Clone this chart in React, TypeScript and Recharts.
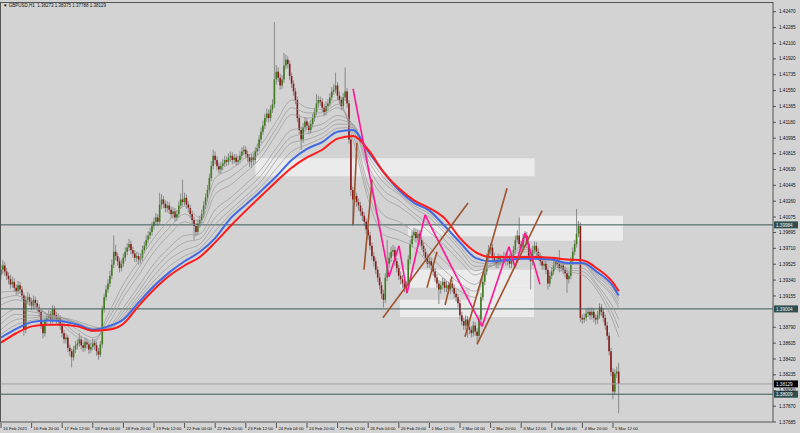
import React from 'react';
import {
  ComposedChart,
  Bar,
  Line,
  XAxis,
  YAxis,
  ReferenceLine,
  ReferenceArea,
} from 'recharts';

// GBPUSD H1, one value per hourly bar (bar 0 = 16 Feb 04:00)
const firstOpen = 1.394;

const closes = [
  1.3946, 1.3951, 1.3944, 1.3939, 1.3935, 1.3929, 1.3932, 1.3925, 1.3921, 1.3928,
  1.3923, 1.3916, 1.3876, 1.3911, 1.3914, 1.3909, 1.3904, 1.3911, 1.3907, 1.3902,
  1.3897, 1.3882, 1.3872, 1.3886, 1.389, 1.3894, 1.3888, 1.39, 1.3893, 1.3888,
  1.389, 1.3881, 1.3872, 1.3865, 1.3867, 1.3855, 1.3851, 1.3844, 1.3853, 1.3858,
  1.386, 1.3865, 1.3858, 1.3855, 1.3862, 1.3859, 1.3853, 1.3856, 1.3861, 1.3858,
  1.3851, 1.3847, 1.3859, 1.39, 1.3914,
  1.3923, 1.393, 1.3939, 1.3952, 1.3967, 1.3962, 1.3956, 1.3948, 1.3953, 1.396,
  1.3967, 1.3972, 1.3976, 1.3969, 1.3965, 1.396, 1.3962, 1.3958, 1.396, 1.3969,
  1.3974, 1.3981, 1.3986, 1.399, 1.3997, 1.4002, 1.4007, 1.4002, 1.4022, 1.4028,
  1.4023, 1.4018, 1.4021, 1.4016, 1.4011, 1.4014, 1.4007, 1.4011, 1.4021, 1.4028,
  1.4025, 1.403, 1.4022, 1.4018, 1.4011, 1.4004, 1.3997, 1.399, 1.4, 1.4004,
  1.4011, 1.4021, 1.403, 1.4039, 1.4053, 1.4067, 1.4079, 1.4074, 1.4067, 1.4063,
  1.4067, 1.407, 1.4074, 1.4072, 1.4077, 1.4079, 1.4074, 1.4077, 1.4072, 1.4074,
  1.4079, 1.4084, 1.4086, 1.4081, 1.4077, 1.4072, 1.4077, 1.4074, 1.4084, 1.4088,
  1.4098, 1.4107, 1.4114, 1.4123, 1.4128, 1.4123, 1.4133, 1.4139, 1.4168, 1.4177,
  1.417, 1.4161, 1.4168, 1.4184, 1.4191, 1.4186, 1.4172, 1.4163, 1.4154, 1.4144,
  1.4123, 1.4109, 1.4098, 1.4112, 1.4119, 1.4114, 1.4109, 1.4116, 1.4123, 1.413,
  1.414, 1.4144, 1.4142, 1.4135, 1.413, 1.4137, 1.414, 1.4147, 1.4154, 1.4156,
  1.4161, 1.4149, 1.4144, 1.4137, 1.4147, 1.4154, 1.414, 1.4098, 1.4039, 1.4028,
  1.4032, 1.4025, 1.4021, 1.4014, 1.4009, 1.4002, 1.3993, 1.3986, 1.3974, 1.3962,
  1.3956, 1.3946, 1.3937, 1.3928, 1.3918, 1.3911, 1.3937, 1.3953, 1.396, 1.3967,
  1.3969, 1.3956, 1.3948, 1.3939, 1.3935, 1.393, 1.3925, 1.3928, 1.3958, 1.3976,
  1.3986, 1.399, 1.3983, 1.3988, 1.3981, 1.3974, 1.3967, 1.396, 1.3953, 1.3956,
  1.3951, 1.3944, 1.3937, 1.393, 1.3923, 1.3928, 1.3932, 1.3925, 1.3928, 1.3923,
  1.393, 1.3925, 1.3918, 1.3914, 1.3907, 1.3893, 1.3886, 1.3881, 1.3888, 1.3879,
  1.3876, 1.3872, 1.3881, 1.3874, 1.3869, 1.3888, 1.3914, 1.3932, 1.3944, 1.396,
  1.3969, 1.3972, 1.3962, 1.3956, 1.3953, 1.396, 1.3956, 1.3958, 1.3962, 1.3956,
  1.396, 1.3953, 1.3958, 1.3969, 1.3981, 1.3986, 1.3976, 1.3972, 1.3983, 1.3986,
  1.3976, 1.3962, 1.3956, 1.3969, 1.3974, 1.3967, 1.3962, 1.3956, 1.3951, 1.3953,
  1.3946, 1.393, 1.3939, 1.3944, 1.3951, 1.3956, 1.3953, 1.3948, 1.3951, 1.3946,
  1.3942, 1.3935, 1.3939, 1.3956, 1.3967, 1.3976, 1.3988, 1.3997, 1.389, 1.3888,
  1.389, 1.3895, 1.3897, 1.3893, 1.3897, 1.389, 1.3888, 1.3893, 1.3902, 1.3897,
  1.389, 1.3881, 1.3869, 1.3851, 1.3827, 1.3804, 1.3825, 1.38273, 1.38129,
];

const highs = [
  1.3952, 1.3957, 1.3955, 1.3948, 1.3943, 1.394, 1.3938, 1.3936, 1.3929, 1.3933,
  1.3932, 1.3927, 1.3919, 1.3915, 1.392, 1.3918, 1.3913, 1.3916, 1.3915, 1.3911,
  1.3906, 1.39, 1.3886, 1.389, 1.3895, 1.3899, 1.3898, 1.3905, 1.3904, 1.3897,
  1.3895, 1.3893, 1.3884, 1.3876, 1.3872, 1.387, 1.3859, 1.3854, 1.3857, 1.3863,
  1.3865, 1.3872, 1.3869, 1.3862, 1.3867, 1.3866, 1.3863, 1.3861, 1.3866, 1.3865,
  1.3862, 1.3855, 1.3863, 1.3904, 1.3918,
  1.3928, 1.3935, 1.3945, 1.3958, 1.3986, 1.3975, 1.3966, 1.396, 1.3958, 1.3965,
  1.3972, 1.3977, 1.3982, 1.398, 1.3973, 1.3969, 1.3967, 1.3966, 1.3965, 1.3974,
  1.3979, 1.3986, 1.3991, 1.3995, 1.4002, 1.4007, 1.4012, 1.4011, 1.4036, 1.4034,
  1.4032, 1.4027, 1.4026, 1.4025, 1.402, 1.4019, 1.4018, 1.4016, 1.4026, 1.4035,
  1.4051, 1.4036, 1.4034, 1.4026, 1.4022, 1.4015, 1.4008, 1.4001, 1.4005, 1.4009,
  1.4016, 1.4026, 1.4035, 1.4045, 1.4058, 1.4073, 1.4086, 1.4084, 1.4078, 1.4071,
  1.4072, 1.4075, 1.4079, 1.4078, 1.4082, 1.4084, 1.4083, 1.4081, 1.4081, 1.4079,
  1.4084, 1.4089, 1.4091, 1.409, 1.4085, 1.4081, 1.4081, 1.4082, 1.4089, 1.4093,
  1.4103, 1.4112, 1.412, 1.4128, 1.4134, 1.4133, 1.4138, 1.4145, 1.4235, 1.4185,
  1.4182, 1.4175, 1.4173, 1.4199, 1.4197, 1.4195, 1.419, 1.4176, 1.4167, 1.4158,
  1.4148, 1.4127, 1.4113, 1.4117, 1.4124, 1.4123, 1.4118, 1.4121, 1.4128, 1.4135,
  1.4151, 1.4149, 1.4148, 1.4146, 1.4139, 1.4142, 1.4145, 1.4152, 1.4159, 1.4162,
  1.4176, 1.4165, 1.4154, 1.4148, 1.4152, 1.4182, 1.4158, 1.4144, 1.4102, 1.4043,
  1.4037, 1.4036, 1.4029, 1.4025, 1.4018, 1.4013, 1.4006, 1.3997, 1.399, 1.3978,
  1.3967, 1.396, 1.395, 1.3942, 1.3932, 1.3923, 1.3942, 1.3981, 1.3966, 1.3973,
  1.3975, 1.3973, 1.396, 1.3952, 1.3944, 1.394, 1.3935, 1.3933, 1.3963, 1.3981,
  1.3991, 1.3995, 1.3994, 1.3993, 1.3992, 1.3985, 1.3978, 1.3971, 1.3964, 1.3961,
  1.396, 1.3955, 1.3948, 1.3941, 1.3934, 1.3933, 1.3937, 1.3936, 1.3933, 1.3932,
  1.3935, 1.3934, 1.3929, 1.3922, 1.3918, 1.3911, 1.3897, 1.389, 1.3893, 1.3892,
  1.3884, 1.388, 1.3886, 1.3885, 1.3878, 1.3893, 1.3919, 1.3937, 1.3949, 1.3965,
  1.3975, 1.3977, 1.3976, 1.3966, 1.396, 1.3965, 1.3964, 1.3963, 1.3967, 1.3966,
  1.3965, 1.3964, 1.3963, 1.3974, 1.3986, 1.3992, 1.4007, 1.398, 1.3988, 1.3991,
  1.399, 1.398, 1.3966, 1.3974, 1.3979, 1.3978, 1.3971, 1.3966, 1.396, 1.3958,
  1.3957, 1.395, 1.3944, 1.3949, 1.3956, 1.3961, 1.396, 1.3969, 1.3956, 1.3955,
  1.395, 1.3946, 1.3944, 1.3961, 1.3972, 1.3981, 1.4017, 1.4003, 1.4001, 1.3894,
  1.3895, 1.39, 1.3902, 1.3901, 1.3902, 1.3901, 1.3894, 1.3898, 1.3907, 1.3906,
  1.3901, 1.3894, 1.3885, 1.3873, 1.3855, 1.3831, 1.383, 1.3833, 1.38375,
];

const lows = [
  1.3935, 1.3941, 1.3939, 1.3934, 1.3929, 1.3924, 1.3925, 1.392, 1.3916, 1.3917,
  1.3918, 1.3911, 1.3869, 1.3872, 1.3906, 1.3904, 1.3899, 1.39, 1.3902, 1.3897,
  1.3891, 1.3877, 1.3866, 1.3868, 1.3881, 1.3886, 1.3883, 1.3884, 1.3888, 1.3883,
  1.3883, 1.3876, 1.3867, 1.386, 1.386, 1.385, 1.3845, 1.3832, 1.384, 1.3849,
  1.3853, 1.3856, 1.3853, 1.385, 1.3851, 1.3854, 1.3848, 1.3849, 1.3852, 1.3853,
  1.3846, 1.3841, 1.3844, 1.3855, 1.3896,
  1.391, 1.3919, 1.3926, 1.3935, 1.3948, 1.3957, 1.3951, 1.3943, 1.3944, 1.3949,
  1.3956, 1.3963, 1.3968, 1.3964, 1.396, 1.3955, 1.3955, 1.3952, 1.3953, 1.3956,
  1.3965, 1.397, 1.3977, 1.3982, 1.3986, 1.3993, 1.3998, 1.3997, 1.3999, 1.4017,
  1.4018, 1.4013, 1.4013, 1.4011, 1.4006, 1.4006, 1.4002, 1.4003, 1.4007, 1.4017,
  1.402, 1.4021, 1.4017, 1.4013, 1.4006, 1.3999, 1.3981, 1.3985, 1.3986, 1.3995,
  1.4, 1.4007, 1.4017, 1.4026, 1.4035, 1.4049, 1.4063, 1.4069, 1.4062, 1.4058,
  1.4058, 1.4062, 1.4066, 1.4067, 1.4068, 1.4072, 1.4069, 1.407, 1.4067, 1.4068,
  1.407, 1.4075, 1.408, 1.4076, 1.4072, 1.4066, 1.4065, 1.4068, 1.407, 1.408,
  1.4084, 1.4094, 1.4103, 1.411, 1.4119, 1.4118, 1.4119, 1.4129, 1.4135, 1.4162,
  1.4165, 1.4156, 1.4157, 1.4164, 1.418, 1.4181, 1.4167, 1.4158, 1.4149, 1.4139,
  1.4118, 1.4104, 1.4086, 1.4094, 1.4107, 1.4109, 1.4104, 1.4105, 1.4112, 1.4119,
  1.4126, 1.4135, 1.4137, 1.413, 1.4125, 1.4126, 1.4132, 1.4136, 1.4143, 1.415,
  1.4152, 1.4144, 1.4139, 1.4132, 1.4133, 1.4143, 1.4135, 1.4093, 1.4032, 1.3997,
  1.4022, 1.4019, 1.4015, 1.4009, 1.4003, 1.3997, 1.3988, 1.3981, 1.3969, 1.3957,
  1.395, 1.3941, 1.3932, 1.3923, 1.3912, 1.3902, 1.3907, 1.3933, 1.3948, 1.3955,
  1.3962, 1.3951, 1.3943, 1.3934, 1.3929, 1.3925, 1.392, 1.3918, 1.3924, 1.3953,
  1.3972, 1.3982, 1.3978, 1.3979, 1.3976, 1.3969, 1.3962, 1.3955, 1.3948, 1.3948,
  1.3946, 1.3939, 1.3932, 1.3925, 1.3906, 1.3918, 1.3923, 1.392, 1.392, 1.3918,
  1.3918, 1.392, 1.3913, 1.3909, 1.3902, 1.3888, 1.3881, 1.3876, 1.3876, 1.3867,
  1.3871, 1.3867, 1.3868, 1.3869, 1.3861, 1.3865, 1.3884, 1.391, 1.3928, 1.394,
  1.3956, 1.3964, 1.3957, 1.3951, 1.3948, 1.3948, 1.3951, 1.3951, 1.3953, 1.3951,
  1.3951, 1.3948, 1.3948, 1.3954, 1.3965, 1.3977, 1.3971, 1.3967, 1.3968, 1.3978,
  1.3971, 1.3957, 1.3923, 1.3951, 1.3965, 1.3962, 1.3957, 1.3951, 1.3946, 1.3946,
  1.3941, 1.3923, 1.3926, 1.3935, 1.394, 1.3947, 1.3948, 1.3943, 1.3944, 1.3941,
  1.3937, 1.3919, 1.393, 1.3935, 1.3952, 1.3963, 1.3972, 1.3984, 1.3885, 1.3883,
  1.3884, 1.3886, 1.3891, 1.3888, 1.3888, 1.3885, 1.3882, 1.3883, 1.3889, 1.3892,
  1.3885, 1.3876, 1.3864, 1.3846, 1.3822, 1.3795, 1.38, 1.382, 1.37788,
];

// moving averages, read every 8 bars
const maBars = [
  0, 8, 16, 24, 32, 40, 48, 56, 64, 72, 80, 88, 96, 104, 112, 120, 128, 136, 144, 152, 160,
  168, 176, 184, 192, 200, 208, 216, 224, 232, 240, 248, 256, 264, 272, 280, 288, 296, 304, 312,
  320, 323,
];
const blueMa = [
  1.3867, 1.3877, 1.3885, 1.3887, 1.3886, 1.3882, 1.3876, 1.388, 1.3888, 1.3908, 1.3927,
  1.3943, 1.3956, 1.3967, 1.3983, 1.4006, 1.4022, 1.4038, 1.4055, 1.4074, 1.4087, 1.4095,
  1.4107, 1.4109, 1.4084, 1.406, 1.4039, 1.4024, 1.4015, 1.3997, 1.3978, 1.396, 1.3956,
  1.3957, 1.3959, 1.3959, 1.3958, 1.3954, 1.3954, 1.3943, 1.3927, 1.3916,
];
const redMa = [
  1.3861, 1.3872, 1.388, 1.3882, 1.3882, 1.388, 1.3875, 1.3876, 1.3883, 1.3904, 1.3923,
  1.3939, 1.3951, 1.3961, 1.3978, 1.3997, 1.4015, 1.4032, 1.4049, 1.4065, 1.4077, 1.4086,
  1.4099, 1.4102, 1.4086, 1.406, 1.4041, 1.4027, 1.4018, 1.4006, 1.3983, 1.3967, 1.3961,
  1.3961, 1.3961, 1.3961, 1.396, 1.3958, 1.3957, 1.3947, 1.3931, 1.3921,
];
const grayMa1 = [
  1.392, 1.3921, 1.3909, 1.3894, 1.3882, 1.3867, 1.386, 1.3894, 1.3929, 1.3956, 1.3983,
  1.4004, 1.402, 1.4007, 1.4053, 1.4063, 1.4077, 1.4092, 1.4119, 1.4144, 1.4135, 1.4133,
  1.4144, 1.4098, 1.4028, 1.3987, 1.3981, 1.3972, 1.3952, 1.3935, 1.3921, 1.3914, 1.396,
  1.396, 1.3973, 1.3967, 1.3948, 1.3944, 1.394, 1.3921, 1.3886, 1.3868,
];
const grayMa2 = [
  1.3912, 1.3916, 1.3906, 1.3894, 1.3885, 1.3871, 1.3863, 1.3888, 1.3921, 1.3948, 1.3975,
  1.3995, 1.4011, 1.4002, 1.4043, 1.4054, 1.4068, 1.4084, 1.4111, 1.4135, 1.4129, 1.4129,
  1.4139, 1.4105, 1.4036, 1.3998, 1.3991, 1.3981, 1.3962, 1.3945, 1.393, 1.3921, 1.3957,
  1.3959, 1.397, 1.3966, 1.3951, 1.3946, 1.3944, 1.3925, 1.3894, 1.3878,
];
const grayMa3 = [
  1.3905, 1.3911, 1.3904, 1.3895, 1.3888, 1.3876, 1.3867, 1.3882, 1.3914, 1.394, 1.3967,
  1.3987, 1.4002, 1.3997, 1.4034, 1.4045, 1.406, 1.4077, 1.4104, 1.4127, 1.4123, 1.4126,
  1.4135, 1.4112, 1.4045, 1.401, 1.4002, 1.399, 1.3972, 1.3956, 1.3939, 1.3929, 1.3953,
  1.3958, 1.3967, 1.3965, 1.3954, 1.3948, 1.3948, 1.3928, 1.3902, 1.3888,
];
const grayMa4 = [
  1.389, 1.39, 1.3897, 1.3894, 1.389, 1.3882, 1.3874, 1.3879, 1.3902, 1.3927, 1.3953,
  1.3972, 1.3986, 1.3988, 1.4016, 1.403, 1.4046, 1.4063, 1.4088, 1.4109, 1.4112, 1.4116,
  1.4126, 1.4116, 1.406, 1.4031, 1.402, 1.4007, 1.399, 1.3974, 1.3956, 1.394, 1.395,
  1.3956, 1.3962, 1.3962, 1.3957, 1.3952, 1.3952, 1.3933, 1.3914, 1.3902,
];
const grayMa5 = [
  1.3883, 1.3894, 1.3893, 1.3892, 1.389, 1.3884, 1.3877, 1.3878, 1.3897, 1.3921, 1.3946,
  1.3965, 1.3978, 1.3982, 1.4007, 1.4023, 1.4039, 1.4056, 1.4081, 1.4101, 1.4105, 1.411,
  1.4121, 1.4115, 1.4067, 1.4039, 1.4027, 1.4012, 1.3998, 1.3981, 1.3962, 1.3945, 1.395,
  1.3956, 1.3961, 1.3961, 1.3957, 1.3952, 1.3953, 1.3935, 1.3917, 1.3906,
];
const grayMa6 = [
  1.3876, 1.3888, 1.389, 1.3891, 1.389, 1.3886, 1.388, 1.3877, 1.3893, 1.3916, 1.3939,
  1.3958, 1.3969, 1.3976, 1.3999, 1.4016, 1.4032, 1.4049, 1.4074, 1.4094, 1.4098, 1.4105,
  1.4116, 1.4115, 1.4074, 1.4048, 1.4034, 1.4018, 1.4007, 1.3989, 1.3969, 1.395, 1.3951,
  1.3956, 1.396, 1.396, 1.3958, 1.3953, 1.3954, 1.3938, 1.3921, 1.391,
];
const grayMa7 = [
  1.3871, 1.3882, 1.3887, 1.3889, 1.3888, 1.3884, 1.3878, 1.3878, 1.389, 1.3912, 1.3933,
  1.395, 1.3962, 1.3971, 1.3991, 1.4011, 1.4027, 1.4043, 1.4064, 1.4084, 1.4092, 1.41,
  1.4111, 1.4112, 1.4079, 1.4054, 1.4036, 1.4021, 1.4011, 1.3993, 1.3973, 1.3955, 1.3953,
  1.3956, 1.3959, 1.396, 1.3958, 1.3954, 1.3955, 1.394, 1.3924, 1.3913,
];

const timeTicks = [0, 16, 32, 48, 64, 80, 96, 112, 128, 144, 160, 176, 192, 208, 224, 240, 256, 272, 288, 304, 320];
const timeLabels = [
  '16 Feb 2021', '16 Feb 20:00', '17 Feb 12:00', '18 Feb 04:00', '18 Feb 20:00', '19 Feb 12:00',
  '22 Feb 04:00', '22 Feb 20:00', '23 Feb 12:00', '24 Feb 04:00', '24 Feb 20:00', '25 Feb 12:00',
  '26 Feb 04:00', '26 Feb 20:00', '1 Mar 12:00', '2 Mar 04:00', '2 Mar 20:00', '3 Mar 12:00',
  '4 Mar 04:00', '4 Mar 20:00', '5 Mar 12:00',
];
const priceTicks = [
  1.37685, 1.3787, 1.3805, 1.38235, 1.3842, 1.38605, 1.3879, 1.39155, 1.3934, 1.39525, 1.3971,
  1.39895, 1.40075, 1.4026, 1.40445, 1.4063, 1.40815, 1.40995, 1.4118, 1.41365, 1.4155, 1.41735,
  1.4192, 1.421, 1.42285, 1.4247,
];

const levelPrices = [1.39984, 1.39004, 1.38009];
const bidPrice = 1.38129;

// rectangles drawn on the chart: [fromBar, toBar, lowPrice, highPrice]
const zones = [
  [133, 279, 1.4055, 1.4076],
  [271.4, 325.2, 1.398, 1.4009],
  [212.8, 271.4, 1.3985, 1.3998],
  [208.6, 278.7, 1.3925, 1.3946],
  [245, 278.7, 1.3911, 1.3925],
  [208.6, 278.7, 1.3891, 1.3911],
];

// pink zigzag: [bar, price]
const pinkPath = [
  [184.1, 1.4157], [202.9, 1.3938], [208.1, 1.3974], [212.3, 1.3919], [221.7, 1.401],
  [251.5, 1.388], [265.6, 1.3973], [268.8, 1.3949], [274.0, 1.3989], [281.8, 1.3929],
];
// brown trendlines: [bar1, price1, bar2, price2]
const brownLines = [
  [184.1, 1.3999, 186.1, 1.4094],
  [189.8, 1.3946, 194.0, 1.4051],
  [199.7, 1.389, 244.2, 1.4024],
  [222.7, 1.3925, 228.0, 1.3967],
  [232.2, 1.3905, 235.8, 1.3938],
  [242.6, 1.3868, 264.6, 1.4041],
  [248.9, 1.3859, 282.9, 1.4015],
];

const candles = closes.map((c, i) => ({
  i,
  open: i === 0 ? firstOpen : closes[i - 1],
  close: c,
  high: highs[i],
  low: lows[i],
  range: [lows[i], highs[i]],
}));

const grayKeys = ['g1', 'g2', 'g3', 'g4', 'g5', 'g6', 'g7'];
const grayLists = [grayMa1, grayMa2, grayMa3, grayMa4, grayMa5, grayMa6, grayMa7];

const maData = maBars.map((b, k) => {
  const row: any = { i: b, blue: blueMa[k], red: redMa[k] };
  grayKeys.forEach((g, j) => {
    row[g] = grayLists[j][k];
  });
  return row;
});

const FONT = 'Liberation Sans, Arial, sans-serif';

const Candle = (props: any) => {
  const { x, y, width, height, payload } = props;
  if (!payload || x == null || isNaN(x)) return null;
  const { open, close, high, low } = payload;
  const cx = x + width / 2;
  const h = Math.abs(height);
  const top = height >= 0 ? y : y + height;
  const k = high > low ? h / (high - low) : 0;
  const py = (p: number) => top + (high - p) * k;
  const yo = py(open);
  const yc = py(close);
  const up = close >= open;
  return (
    <g>
      <line x1={cx} x2={cx} y1={top} y2={top + h} stroke="#8a8a8a" strokeWidth={1} />
      <rect
        x={cx - 0.8}
        y={Math.min(yo, yc)}
        width={1.6}
        height={Math.max(1, Math.abs(yc - yo))}
        fill={up ? '#3e7d1c' : '#8b1a1a'}
      />
    </g>
  );
};

const PriceTick = (props: any) => {
  const { x, y, payload } = props;
  return (
    <g>
      <line x1={x} x2={x + 3} y1={y} y2={y} stroke="#333" strokeWidth={0.8} />
      <text x={x + 6} y={y + 1.6} fontSize={4.6} fill="#111" fontFamily={FONT}>
        {Number(payload.value).toFixed(5)}
      </text>
    </g>
  );
};

const TimeTick = (props: any) => {
  const { x, y, payload } = props;
  const label = timeLabels[timeTicks.indexOf(payload.value)];
  return (
    <g>
      <line x1={x} x2={x} y1={y + 1} y2={y + 6} stroke="#333" strokeWidth={0.8} />
      <text x={x + 2} y={y + 7.5} fontSize={4.3} fill="#111" fontFamily={FONT}>
        {label}
      </text>
    </g>
  );
};

const PriceTag = (props: any) => {
  const { viewBox, text, fill } = props;
  if (!viewBox) return null;
  const lx = viewBox.x + viewBox.width + 1;
  return (
    <g>
      <rect x={lx} y={viewBox.y - 3.5} width={24} height={7} fill={fill} />
      <text x={lx + 2} y={viewBox.y + 1.7} fontSize={4.6} fill="#f0f0f0" fontFamily={FONT}>
        {text}
      </text>
    </g>
  );
};

export default function App() {
  return (
    <div style={{ position: 'absolute', left: 0, top: 0, width: 800, height: 433, background: '#d3d3d3', overflow: 'hidden' }}>
      <ComposedChart
        width={800}
        height={433}
        data={candles}
        margin={{ top: 2, right: 0, left: 0, bottom: 0 }}
      >
        <XAxis
          dataKey="i"
          type="number"
          domain={[-0.523, 403.66]}
          allowDataOverflow
          ticks={timeTicks}
          interval={0}
          height={11}
          tickSize={0}
          tickMargin={0}
          tick={<TimeTick />}
          axisLine={{ stroke: '#555' }}
          tickLine={false}
        />
        <YAxis
          orientation="right"
          type="number"
          domain={[1.37685, 1.42583]}
          allowDataOverflow
          ticks={priceTicks}
          interval={0}
          width={27}
          tickSize={0}
          tickMargin={0}
          tick={<PriceTick />}
          axisLine={{ stroke: '#555' }}
          tickLine={false}
        />
        {zones.map((z, k) => (
          <ReferenceArea
            key={'z' + k}
            x1={z[0]}
            x2={z[1]}
            y1={z[2]}
            y2={z[3]}
            fill="#ffffff"
            fillOpacity={0.55}
            stroke="none"
            ifOverflow="visible"
          />
        ))}
        <ReferenceLine y={bidPrice} stroke="#a4a4a4" strokeWidth={1} label={(p: any) => <PriceTag {...p} text="1.38129" fill="#000000" />} />
        {levelPrices.map((lv) => (
          <ReferenceLine
            key={'l' + lv}
            y={lv}
            stroke="#3b5a56"
            strokeWidth={1}
            label={(p: any) => <PriceTag {...p} text={lv.toFixed(5)} fill="#2f4f4f" />}
          />
        ))}
        <Bar dataKey="range" barSize={2} shape={<Candle />} isAnimationActive={false} />
        {grayKeys.map((g) => (
          <Line
            key={g}
            data={maData}
            dataKey={g}
            type="monotone"
            stroke="#999999"
            strokeWidth={0.7}
            dot={false}
            isAnimationActive={false}
          />
        ))}
        <Line data={maData} dataKey="blue" type="monotone" stroke="#4169e1" strokeWidth={2} dot={false} isAnimationActive={false} />
        <Line data={maData} dataKey="red" type="monotone" stroke="#ff1a1a" strokeWidth={2} dot={false} isAnimationActive={false} />
        {pinkPath.slice(1).map((pt, k) => (
          <ReferenceLine
            key={'p' + k}
            segment={[
              { x: pinkPath[k][0], y: pinkPath[k][1] },
              { x: pt[0], y: pt[1] },
            ]}
            stroke="#ff1493"
            strokeWidth={1.6}
            ifOverflow="visible"
          />
        ))}
        {brownLines.map((b, k) => (
          <ReferenceLine
            key={'b' + k}
            segment={[
              { x: b[0], y: b[1] },
              { x: b[2], y: b[3] },
            ]}
            stroke="#a0522d"
            strokeWidth={1.6}
            ifOverflow="visible"
          />
        ))}
      </ComposedChart>
      <div
        style={{
          position: 'absolute',
          left: 0,
          top: 2,
          width: 773,
          height: 420,
          boxSizing: 'border-box',
          borderLeft: '1px solid #555',
          borderTop: '1px solid #555',
          pointerEvents: 'none',
        }}
      />
      <div
        style={{
          position: 'absolute',
          left: 3,
          top: 3,
          fontSize: 4.5,
          lineHeight: '6px',
          fontFamily: FONT,
          color: '#111',
          whiteSpace: 'pre',
        }}
      >
        {'▼ GBPUSD,H1  1.38273 1.38375 1.37788 1.38129'}
      </div>
    </div>
  );
}
